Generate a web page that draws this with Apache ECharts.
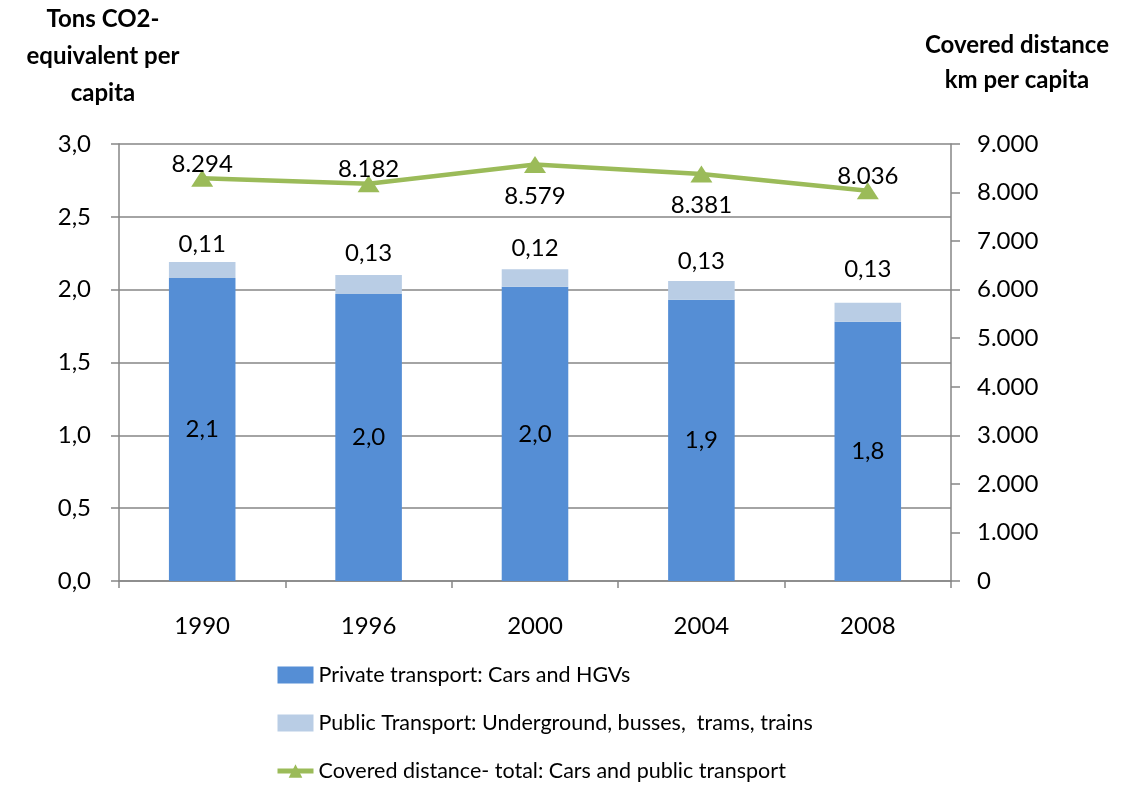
<!DOCTYPE html>
<html>
<head>
<meta charset="utf-8">
<script src="https://cdn.jsdelivr.net/npm/echarts@6/dist/echarts.min.js"></script>
<style>
  html, body { margin: 0; padding: 0; background: #fff; }
  #chart { width: 1122px; height: 785px; }
</style>
</head>
<body>
<div id="chart"></div>
<script>
var years = ['1990', '1996', '2000', '2004', '2008'];
var privateTransport = [2.08, 1.97, 2.02, 1.93, 1.78];
var privateLabels = ['2,1', '2,0', '2,0', '1,9', '1,8'];
var publicTransport = [0.11, 0.13, 0.12, 0.13, 0.13];
var distance = [8294, 8182, 8579, 8381, 8036];
var distanceLabelPos = ['top', 'top', 'bottom', 'bottom', 'top'];

// label spacing as in the original sheet (label placement only)
var publicLabelGap = [6, 10, 9, 8, 22];

var font = 'Lato';
var axisGray = '#868686';

var chart = echarts.init(document.getElementById('chart'));

var option = {
    animation: false,
    textStyle: { fontFamily: font, color: '#000' },
    title: [
        {
            text: 'Tons CO2-\nequivalent per\ncapita',
            left: 98, top: -4, textAlign: 'center',
            textStyle: { fontFamily: font, fontSize: 24, fontWeight: 'bold', lineHeight: 37, color: '#000' }
        },
        {
            text: 'Covered distance\nkm per capita',
            left: 1012, top: 23, textAlign: 'center',
            textStyle: { fontFamily: font, fontSize: 24, fontWeight: 'bold', lineHeight: 35, color: '#000' }
        }
    ],
    grid: { left: 119, right: 171, top: 144, bottom: 204 },
    legend: {
        orient: 'vertical',
        left: 270, top: 659, height: 200,
        itemWidth: 36, itemHeight: 17, itemGap: 26,
        textStyle: { fontFamily: font, fontSize: 21.5, color: '#000' },
        data: [
            { name: 'Private transport: Cars and HGVs', icon: 'rect' },
            { name: 'Public Transport: Underground, busses,  trams, trains', icon: 'rect' },
            { name: 'Covered distance- total: Cars and public transport', lineStyle: { width: 5 } }
        ]
    },
    xAxis: {
        type: 'category',
        data: years,
        axisLine: { lineStyle: { color: axisGray, width: 1.5 } },
        axisTick: { show: true, alignWithLabel: false, length: 7, lineStyle: { color: axisGray, width: 1.5 } },
        axisLabel: { fontFamily: font, fontSize: 24, color: '#000', margin: 33 }
    },
    yAxis: [
        {
            type: 'value', min: 0, max: 3, interval: 0.5,
            axisLine: { show: true, lineStyle: { color: axisGray, width: 1.5 } },
            axisTick: { show: true, length: 8, lineStyle: { color: axisGray, width: 1.5 } },
            splitLine: { lineStyle: { color: axisGray, width: 1.5 } },
            axisLabel: {
                fontFamily: font, fontSize: 24, color: '#000', margin: 28,
                formatter: function (v) { return v.toFixed(1).replace('.', ','); }
            }
        },
        {
            type: 'value', min: 0, max: 9000, interval: 1000,
            axisLine: { show: true, lineStyle: { color: axisGray, width: 1.5 } },
            axisTick: { show: true, length: 9, lineStyle: { color: axisGray, width: 1.5 } },
            splitLine: { show: false },
            axisLabel: {
                fontFamily: font, fontSize: 24, color: '#000', margin: 26,
                formatter: function (v) { return v === 0 ? '0' : (v / 1000).toFixed(3); }
            }
        }
    ],
    series: [
        {
            name: 'Private transport: Cars and HGVs',
            type: 'bar', stack: 'co2', barWidth: '40%',
            itemStyle: { color: '#558ED5' },
            data: privateTransport,
            label: {
                show: true, position: 'inside', fontFamily: font, fontSize: 24, color: '#000',
                formatter: function (p) { return privateLabels[p.dataIndex]; }
            }
        },
        {
            name: 'Public Transport: Underground, busses,  trams, trains',
            type: 'bar', stack: 'co2', barWidth: '40%',
            itemStyle: { color: '#B9CDE5' },
            data: publicTransport.map(function (v, i) {
                return { value: v, label: { distance: publicLabelGap[i] } };
            }),
            label: {
                show: true, position: 'top', fontFamily: font, fontSize: 24, color: '#000',
                formatter: function (p) { return p.value.toFixed(2).replace('.', ','); }
            }
        },
        {
            name: 'Covered distance- total: Cars and public transport',
            type: 'line', yAxisIndex: 1,
            symbol: 'triangle', symbolSize: [22, 17],
            lineStyle: { color: '#9BBB59', width: 4.5 },
            itemStyle: { color: '#9BBB59' },
            data: distance.map(function (v, i) {
                return {
                    value: v,
                    label: { position: distanceLabelPos[i], distance: distanceLabelPos[i] === 'bottom' ? 11 : -6 }
                };
            }),
            label: {
                show: true, fontFamily: font, fontSize: 24, color: '#000',
                formatter: function (p) { return (p.value / 1000).toFixed(3); }
            }
        }
    ]
};

chart.setOption(option);
</script>
</body>
</html>
